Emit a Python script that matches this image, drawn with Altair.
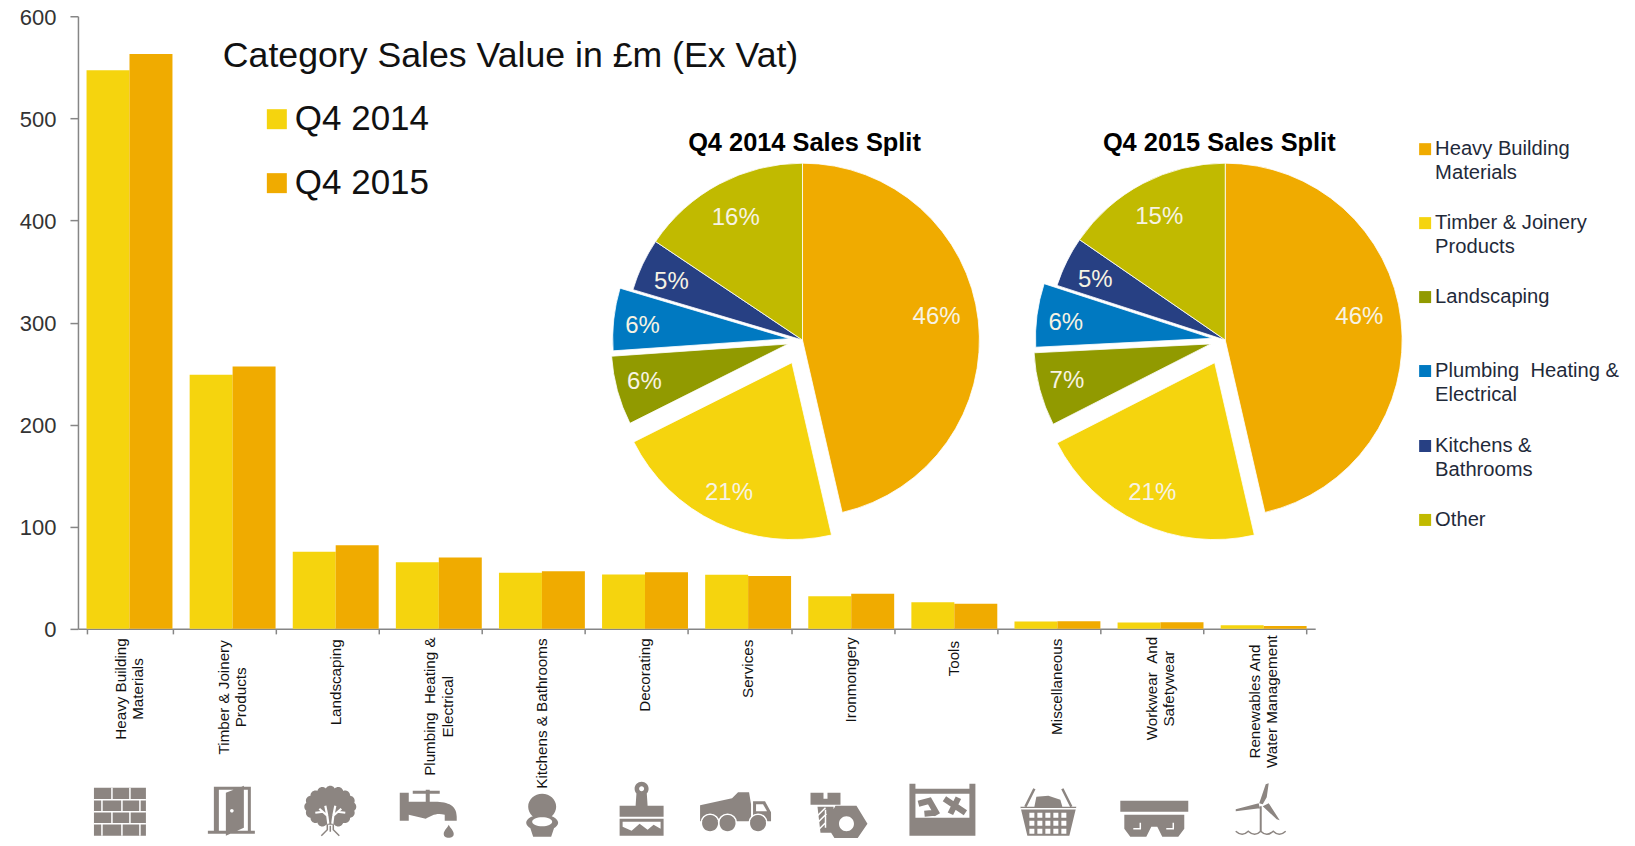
import math, re
import altair as alt
import pandas as pd

# ---------- data ----------
categories = ["Heavy Building|Materials", "Timber & Joinery|Products", "Landscaping",
              "Plumbing \u00a0Heating &|Electrical", "Kitchens & Bathrooms", "Decorating",
              "Services", "Ironmongery", "Tools", "Miscellaneous",
              "Workwear \u00a0And|Safetywear", "Renewables And|Water Management"]
sales_2014 = [547, 249, 75.5, 65.3, 55, 53.2, 52.9, 32, 26, 7.2, 6.2, 3.6]
sales_2015 = [563, 257, 82, 69.8, 56.5, 55.5, 51.9, 34.3, 24.5, 7.5, 6.5, 2.9]
series_names = ["Q4 2014", "Q4 2015"]

split_names = ["Heavy Building|Materials", "Timber & Joinery|Products", "Landscaping",
               "Plumbing \u00a0Heating &|Electrical", "Kitchens &|Bathrooms", "Other"]
split_2014 = [46.4, 21.2, 6.3, 5.7, 4.8, 15.6]
split_2015 = [46.4, 21.1, 6.7, 5.8, 4.6, 15.4]

chart_title = "Category Sales Value in £m (Ex Vat)"
pie_titles = ["Q4 2014 Sales Split", "Q4 2015 Sales Split"]
y_ticks = [0, 100, 200, 300, 400, 500, 600]

# ---------- style / layout ----------
FONT = "Liberation Sans"
YELLOW, ORANGE = "#F5D40E", "#F0AB00"
split_colors = [ORANGE, YELLOW, "#919A00", "#0079C1", "#274083", "#C1BA00"]
explode_px = [0, 25, 15, 13, 0, 0]
label_radius = [135, 143, 149, 148, 145, 142]
label_nudge = [(0, -8), (-2, 1), (0, -1), (0, 4), (0, 4), (0, 3)]
GREY = "#8C8581"
AXIS = "#868686"
LEFT, TOP, W, H = 78, 16, 1238, 613
px = lambda x: x - LEFT
py = lambda y: y - TOP
centers = [(803, 340, 177), (1226, 340, 177)]
cat_scale = alt.Scale(domain=categories, paddingInner=0.167, paddingOuter=0.0835)
cat_axis = alt.Axis(title=None, labels=False, tickBand="extent", tickSize=5, tickColor=AXIS,
                    domainColor=AXIS, tickWidth=1.5, domainWidth=1.5, grid=False)
cat_x = alt.X("category:N", sort=categories, scale=cat_scale, axis=cat_axis)


def text_layer(t, x, y, size, **kw):
    kw.setdefault("align", "left")
    kw.setdefault("baseline", "middle")
    kw.setdefault("color", "#111111")
    return alt.Chart(pd.DataFrame({"t": [t]})).mark_text(
        font=FONT, fontSize=size, lineBreak="|", **kw
    ).encode(text="t:N", x=alt.value(px(x)), y=alt.value(py(y)))


def square_layer(x, y, side, color):
    return alt.Chart(pd.DataFrame({"k": [0]})).mark_square(
        size=side * side, color=color, opacity=1, filled=True
    ).encode(x=alt.value(px(x)), y=alt.value(py(y)))


# ---------- bars ----------
bars_df = pd.DataFrame({
    "category": categories * 2,
    "series": [series_names[0]] * 12 + [series_names[1]] * 12,
    "value": sales_2014 + sales_2015,
})
bars = alt.Chart(bars_df).mark_bar(size=43).encode(
    x=cat_x,
    xOffset=alt.XOffset("series:N", sort=series_names, scale=alt.Scale(paddingInner=0, paddingOuter=0)),
    y=alt.Y("value:Q", scale=alt.Scale(domain=[0, 600], nice=False),
            axis=alt.Axis(title=None, values=y_ticks, grid=False, tickSize=8, tickColor=AXIS,
                          domainColor=AXIS, tickWidth=1.5, domainWidth=1.5, labelFont=FONT, labelFontSize=22,
                          labelColor="#333333", labelPadding=14, labelOffset=1)),
    color=alt.Color("series:N", sort=series_names, legend=None,
                    scale=alt.Scale(domain=series_names, range=[YELLOW, ORANGE])),
)


# ---------- rotated category labels ----------
def em_width(s):
    w = 0
    for c in s:
        if c in "iljI \u00a0":
            w += 0.25
        elif c in "tfr":
            w += 0.31
        elif c in "mwMW&":
            w += 0.78
        elif c.isupper():
            w += 0.68
        else:
            w += 0.53
    return w


LABEL_SIZE = 15.2
LINE_H = 17.5
cat_labels = []
for c in categories:
    lines = c.split("|")
    longest = max(em_width(p) for p in lines)
    centre = py(640) + longest * 14.9 / 2
    cat_labels.append(
        alt.Chart(pd.DataFrame({"category": [c]})).mark_text(
            font=FONT, fontSize=LABEL_SIZE, angle=270, align="center", baseline="middle",
            lineBreak="|", lineHeight=LINE_H, color="#111111", dy=-(len(lines) - 1) * LINE_H / 2
        ).encode(x=cat_x, y=alt.value(centre), text="category:N"))


# ---------- pies ----------
def pie_layers(values, cx, cy, r):
    arcs, labels = [], []
    start = 0
    total = sum(values)
    th = alt.Scale(domain=[0, 100], range=[0, 2 * math.pi])
    for i, v in enumerate(values):
        end = start + v
        mid = (start + end) / 2
        ang = mid / total * 2 * math.pi
        ox = cx + explode_px[i] * math.sin(ang)
        oy = cy - explode_px[i] * math.cos(ang)
        d = pd.DataFrame({"start": [start], "end": [end], "mid": [mid], "v": [v / 100]})
        arcs.append(alt.Chart(d).mark_arc(outerRadius=r, innerRadius=0, color=split_colors[i],
                                          stroke="white", strokeWidth=0.8).encode(
            theta=alt.Theta("start:Q", scale=th), theta2="end:Q",
            x=alt.value(px(ox)), y=alt.value(py(oy))))
        labels.append(alt.Chart(d).mark_text(font=FONT, fontSize=24, color="#F7F3E3", align="center",
                                             baseline="middle", radius=label_radius[i]).encode(
            theta=alt.Theta("mid:Q", scale=th),
            text=alt.Text("v:Q", format=".0%"),
            x=alt.value(px(ox + label_nudge[i][0])), y=alt.value(py(oy + label_nudge[i][1]))))
        start = end
    return arcs + labels


# ---------- icons (paths in px around an anchor, drawn at size 4 = unit scale) ----------
def shift(d, dx, dy):
    out, i = [], 0
    for tok in re.findall(r"[A-Za-z]|-?\d+\.?\d*", d):
        if tok.isalpha():
            out.append(tok)
        else:
            out.append(f"{float(tok) + (dx if i % 2 == 0 else dy):.2f}")
            i += 1
    return " ".join(out)


def rect(x0, y0, x1, y1):
    return f"M{x0} {y0} L{x1} {y0} L{x1} {y1} L{x0} {y1} Z "


def poly(*pts):
    return "M" + " L".join(f"{x} {y}" for x, y in pts) + " Z "


def ell(cx, cy, rx, ry=None):
    ry = rx if ry is None else ry
    k = 0.5523
    return (f"M{cx - rx} {cy} C{cx - rx} {cy - k * ry} {cx - k * rx} {cy - ry} {cx} {cy - ry} "
            f"C{cx + k * rx} {cy - ry} {cx + rx} {cy - k * ry} {cx + rx} {cy} "
            f"C{cx + rx} {cy + k * ry} {cx + k * rx} {cy + ry} {cx} {cy + ry} "
            f"C{cx - k * rx} {cy + ry} {cx - rx} {cy + k * ry} {cx - rx} {cy} Z ")


def seg(*pts):
    return "M" + " L".join(f"{x} {y}" for x, y in pts) + " "


crown = ell(0, -5, 23, 18) + "".join(
    ell(round(21 * math.cos(a * math.pi / 8), 1), round(-5 + 16 * math.sin(a * math.pi / 8), 1), 5)
    for a in range(16) if a not in (4,))

icons = {}
# brick wall
icons[0] = dict(at=(120, 812), base=rect(-26, -24, 26, 24),
                lines="".join(seg((-26, y), (26, y)) for y in (-12, 0, 12))
                      + "".join(seg((x, a), (x, a + 12)) for a, xs in ((-24, (-8, 10)), (-12, (-18, 2, 20)),
                                                                     (0, (-8, 10)), (12, (-18, 2, 20))) for x in xs))
# door
icons[1] = dict(at=(231, 811),
                base=rect(-17, -24, -12, 22) + rect(-17, -24, 20, -21) + rect(17, -24, 20, 22) + rect(-23, 20, 24, 23)
                     + poly((-5, -18), (13, -25), (13, 17), (-5, 25)),
                holes=ell(1, 0, 1.8))
# tree
icons[2] = dict(at=(330.5, 812), base=crown,
                lines=seg((-2, 12), (-3, 4), (-11, -3)) + seg((2, 12), (3, 4), (11, -3))
                      + seg((-3, 4), (-5, -6)) + seg((3, 4), (5, -6)) + seg((-7, 0), (-15, 1)) + seg((7, 0), (15, 1)),
                lw=2.2,
                over=seg((-3, 13), (-3, 18), (-9, 24)) + seg((3, 13), (3, 18), (9, 24)) + seg((0, 14), (0, 20)))
# tap
icons[3] = dict(at=(428, 814),
                base=rect(-28, -21, -19, 7)
                     + "M-19 -12 L5 -12 C18 -12 29 -10 29 3 L29 7 L17 7 L17 1 C8 -1 4 2 -2 5 L-19 1 Z "
                     + rect(-15, -23, 12, -20) + rect(-2, -24, 2, -12)
                     + "M21 11 C23 15 26 17 26 20 C26 23 24 24 21 24 C18 24 16 23 16 20 C16 17 19 15 21 11 Z")
# toilet
icons[4] = dict(at=(542.5, 816),
                base=ell(0, -9, 14, 13) + ell(0, 7, 16, 8) + poly((-12, 12), (12, 12), (9, 21), (-9, 21)),
                holes=ell(0, 6, 10, 4.5))
# brush
icons[5] = dict(at=(642, 809),
                base=ell(0, -20, 7) + poly((-5, -18), (5, -18), (6, -3), (-6, -3))
                     + rect(-22, -3, 22, 8) + rect(-22, 10, 22, 27),
                holes=ell(0, -20, 2.5)
                      + poly((-19, 13), (19, 13), (19, 20), (12, 16), (6, 21), (-2, 15), (-10, 22), (-19, 18)))
# truck
icons[6] = dict(at=(735.5, 812.5),
                base=poly((-35, -7), (-3, -14), (3, -20), (14, -20), (16, -8), (16, 5), (-35, 5))
                     + poly((18, -11), (30, -11), (36, 0), (36, 9), (18, 9)) + rect(-35, 5, 36, 9),
                holes=poly((21, -8), (28, -8), (32, -1), (21, -1)),
                lines=ell(-25, 11, 9) + ell(-7.5, 11, 9) + ell(23, 11, 9),
                top=ell(-25, 11, 8) + ell(-7.5, 11, 8) + ell(23, 11, 8))
# bolt and nut
icons[7] = dict(at=(838, 816),
                base=rect(-27, -23, 3, -11) + poly((-20, -9), (-4, -9), (-3, 17), (-17, 17))
                     + poly((-2, -10), (19, -10), (30, 8), (19, 24), (-2, 24), (-12, 8)),
                holes=ell(9, 8, 7.5) + rect(-14, -25, -10, -17),
                lines=seg((-20, 0), (-12, -8)) + seg((-20, 7), (-11, -2)) + seg((-19, 14), (-12, 7))
                      + seg((-12, 12), (-12, -6)))
# toolbox
icons[8] = dict(at=(943, 810),
                base=rect(-33, -26, -27, 26) + rect(27, -26, 33, 26) + rect(-33, 8, 33, 26) + rect(-30, -21, 30, -16),
                over=seg((-24, -6), (-13, -9), (-5, 5)) + seg((-18, 4), (-8, 3)) + seg((2, -11), (23, 3)) + seg((8, 4), (16, -12)),
                over_w=6)
# basket
grid = "".join(rect(x, y, x + 5, y + 5) for y in (1, 9, 17) for x in (-19, -11, -3, 5, 13))
icons[9] = dict(at=(1049, 812),
                base=poly((-28, -5), (28, -5), (21, 24), (-21, 24)) + poly((-14, -5), (-12, -15), (0, -16), (12, -12), (14, -5)),
                holes=grid, lines=seg((-28, -3), (28, -3)),
                over=seg((-23, -5), (-14, -23)) + seg((23, -5), (14, -23)), over_w=2.5)
# safety glasses
icons[10] = dict(at=(1155, 819),
                 base=rect(-34, -18, 34, -7) + poly((-30, -4), (30, -4), (30, 10), (24, 18), (8, 18), (3, 8), (-3, 8), (-8, 18), (-24, 18), (-30, 10)),
                 lines=seg((-14, 4), (-14, 10), (-21, 10)) + seg((19, 4), (19, 10), (12, 10)))
# wind turbine
icons[11] = dict(at=(1261.5, 809.5),
                 base=poly((-1.5, -6), (5, -25), (8, -26), (6, -12), (2, -5)) + poly((2, -3), (8, -6), (19, 11), (16, 10))
                      + poly((-2, -6), (-1, -1), (-25, 2), (-25, 0)) + rect(-1, -3, 1, 22),
                 over="M-25 22 Q-18.5 28 -12.5 22 Q-6 28 0 22 Q6 28 12.5 22 Q18.5 28 25 22", over_w=1.5)

rows = {"base": [], "holes": [], "lines": [], "over": [], "top": []}
for i, cat in enumerate(categories):
    ic = icons[i]
    band_c = LEFT + (i + 0.5) * W / 12
    dx, dy = ic["at"][0] - band_c, ic["at"][1] - 812
    for key in rows:
        if key in ic:
            w = ic.get("over_w", 1.5) if key == "over" else ic.get("lw", 1.5)
            rows[key].append({"category": cat, "path": shift(ic[key], dx, dy), "w": w})


def icon_layer(rws, color, filled, width=1.5):
    if filled:
        mark = alt.Chart(pd.DataFrame(rws)).mark_point(filled=True, color=color, opacity=1, size=4)
    else:
        mark = alt.Chart(pd.DataFrame(rws)).mark_point(filled=False, color=color, opacity=1, size=4, strokeWidth=width)
    return mark.encode(x=cat_x, y=alt.value(py(812)), shape=alt.Shape("path:N", scale=None, legend=None))


icon_charts = [icon_layer(rows["base"], GREY, True), icon_layer(rows["holes"], "white", True)]
icon_charts += [icon_layer([r], "white", False, r["w"]) for r in rows["lines"]]
icon_charts += [icon_layer([r], GREY, False, r["w"]) for r in rows["over"]]
icon_charts.append(icon_layer(rows["top"], GREY, True))

# ---------- texts and keys ----------
extras = [text_layer(chart_title, 223, 56, 35.7)]
for name, color, y in zip(series_names, [YELLOW, ORANGE], [119, 183]):
    extras.append(square_layer(277, y, 20, color))
    extras.append(text_layer(name, 295, y, 35))
for t, c in zip(pie_titles, [805, 1220]):
    extras.append(text_layer(t, c, 143, 25.4, fontWeight="bold", align="center", color="#000000"))
key_y = [149, 223, 297, 371, 446, 520]
for name, color, y in zip(split_names, split_colors, key_y):
    extras.append(square_layer(1426, y, 12, color))
    extras.append(alt.Chart(pd.DataFrame({"t": [name]})).mark_text(
        font=FONT, fontSize=20.2, lineBreak="|", lineHeight=23.7, align="left", baseline="top", color="#1F2A3A"
    ).encode(text="t:N", x=alt.value(px(1436)), y=alt.value(py(y - 10))))

pies = pie_layers(split_2014, *centers[0]) + pie_layers(split_2015, *centers[1])

chart = alt.layer(bars, *cat_labels, *icon_charts, *pies, *extras).properties(
    width=W, height=H,
    padding={"left": 70, "top": 8, "right": 312, "bottom": 209},
    autosize=alt.AutoSizeParams(type="none"),
    background="white",
).configure_view(stroke=None)

chart.save("out.html", embed_options={"renderer": "svg", "actions": False})
